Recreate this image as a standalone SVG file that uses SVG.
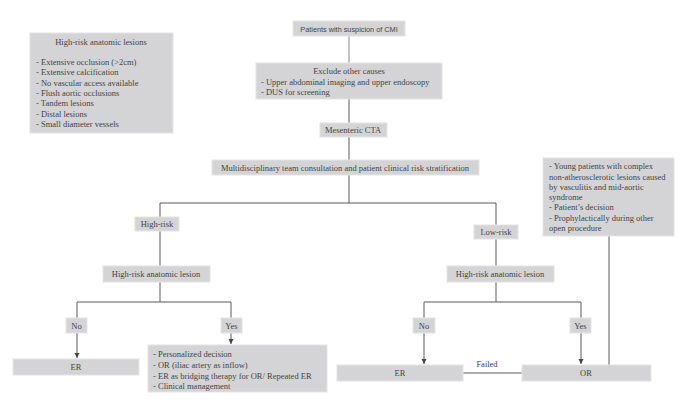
<svg xmlns="http://www.w3.org/2000/svg" width="688" height="405" viewBox="0 0 688 405">
<defs>
<marker id="ah" markerWidth="6" markerHeight="6" refX="5" refY="3" orient="auto" markerUnits="userSpaceOnUse">
<path d="M0,0.5 L5,3 L0,5.5 z" fill="#444"/>
</marker>
<style>
.b{fill:#d4d4d6;stroke:#e4e4e4;stroke-width:1}
.t{font-family:"Liberation Serif","Times New Roman",serif;font-size:8.5px;fill:#444}
.s{font-family:"Liberation Sans",Arial,sans-serif;font-size:7.3px;fill:#444}
.c{text-anchor:middle}
.l{fill:none;stroke:#5a5a5a;stroke-width:1}
</style>
</defs>
<rect width="688" height="405" fill="#fff"/>
<g id="connectors">
<path class="l" d="M349,36 V63" style="stroke:#8a8a8a"/>
<path class="l" d="M349,99 V123"/>
<path class="l" d="M349,137 V160"/>
<path class="l" d="M349,175 V203"/>
<path class="l" d="M160,217 V203 H496 V225"/>
<path class="l" d="M160,231 V266"/>
<path class="l" d="M496,239 V266"/>
<path class="l" d="M160,282 V302"/>
<path class="l" d="M496,282 V302"/>
<path class="l" d="M77,318 V302 H231 V318"/>
<path class="l" d="M424,318 V302 H581 V318"/>
<path class="l" d="M77,333 V358" marker-end="url(#ah)"/>
<path class="l" d="M231,333 V344" marker-end="url(#ah)"/>
<path class="l" d="M424,333 V364" marker-end="url(#ah)"/>
<path class="l" d="M581,333 V364" marker-end="url(#ah)"/>
<path class="l" d="M463,373 H522"/>
<path class="l" d="M609,236 V365"/>
<text class="t c" x="487" y="367">Failed</text>
</g>
<g id="legend">
<rect class="b" x="30" y="33" width="143" height="100"/>
<text class="t c" x="101" y="45">High-risk anatomic lesions</text>
<text class="t" x="36" y="65">- Extensive occlusion (&gt;2cm)</text>
<text class="t" x="36" y="75">- Extensive calcification</text>
<text class="t" x="36" y="85.5">- No vascular access available</text>
<text class="t" x="36" y="96">- Flush aortic occlusions</text>
<text class="t" x="36" y="106">- Tandem lesions</text>
<text class="t" x="36" y="116.5">- Distal lesions</text>
<text class="t" x="36" y="127">- Small diameter vessels</text>
</g>
<g id="patients">
<rect class="b" x="293" y="21" width="112" height="15"/>
<text class="s c" x="349" y="31.5">Patients with suspicion of CMI</text>
</g>
<g id="exclude">
<rect class="b" x="256" y="63" width="186" height="36"/>
<text class="t c" x="349" y="74">Exclude other causes</text>
<text class="t" x="261" y="84.5">- Upper abdominal imaging and upper endoscopy</text>
<text class="t" x="261" y="95">- DUS for screening</text>
</g>
<g id="cta">
<rect class="b" x="320" y="123" width="67" height="14"/>
<text class="t c" x="353" y="133">Mesenteric CTA</text>
</g>
<g id="mdt">
<rect class="b" x="212" y="160" width="267" height="15"/>
<text class="t c" x="345" y="170.5">Multidisciplinary team consultation and patient clinical risk stratification</text>
</g>
<g id="or-indications">
<rect class="b" x="543" y="158" width="131" height="78"/>
<text class="t" x="549" y="169">- Young patients with complex</text>
<text class="t" x="549" y="179.5">non-atherosclerotic lesions caused</text>
<text class="t" x="549" y="190">by vasculitis and mid-aortic</text>
<text class="t" x="549" y="200">syndrome</text>
<text class="t" x="549" y="210">- Patient’s decision</text>
<text class="t" x="549" y="221">- Prophylactically during other</text>
<text class="t" x="549" y="231">open procedure</text>
</g>
<g id="high-risk">
<rect class="b" x="135" y="217" width="44" height="14"/>
<text class="t c" x="157" y="227">High-risk</text>
</g>
<g id="low-risk">
<rect class="b" x="474" y="225" width="44" height="14"/>
<text class="t c" x="496" y="235">Low-risk</text>
</g>
<g id="hral-left">
<rect class="b" x="103" y="266" width="107" height="16"/>
<text class="t c" x="156" y="277">High-risk anatomic lesion</text>
</g>
<g id="hral-right">
<rect class="b" x="447" y="266" width="107" height="16"/>
<text class="t c" x="500" y="277">High-risk anatomic lesion</text>
</g>
<g id="no-left">
<rect class="b" x="66" y="318" width="21" height="15"/>
<text class="t c" x="76.5" y="328.5">No</text>
</g>
<g id="yes-left">
<rect class="b" x="221" y="318" width="21" height="15"/>
<text class="t c" x="231.5" y="328.5">Yes</text>
</g>
<g id="no-right">
<rect class="b" x="413" y="318" width="22" height="15"/>
<text class="t c" x="424" y="328.5">No</text>
</g>
<g id="yes-right">
<rect class="b" x="570" y="318" width="21" height="15"/>
<text class="t c" x="580.5" y="328.5">Yes</text>
</g>
<g id="er-left">
<rect class="b" x="13" y="359" width="126" height="16"/>
<text class="t c" x="76" y="370">ER</text>
</g>
<g id="personalized">
<rect class="b" x="148" y="345" width="179" height="47"/>
<text class="t" x="153" y="357">- Personalized decision</text>
<text class="t" x="153" y="368">- OR (iliac artery as inflow)</text>
<text class="t" x="153" y="378.5">- ER as bridging therapy for OR/ Repeated ER</text>
<text class="t" x="153" y="389">- Clinical management</text>
</g>
<g id="er-right">
<rect class="b" x="337" y="365" width="126" height="16"/>
<text class="t c" x="400" y="376">ER</text>
</g>
<g id="or-right">
<rect class="b" x="522" y="365" width="129" height="16"/>
<text class="t c" x="586" y="376">OR</text>
</g>
</svg>
